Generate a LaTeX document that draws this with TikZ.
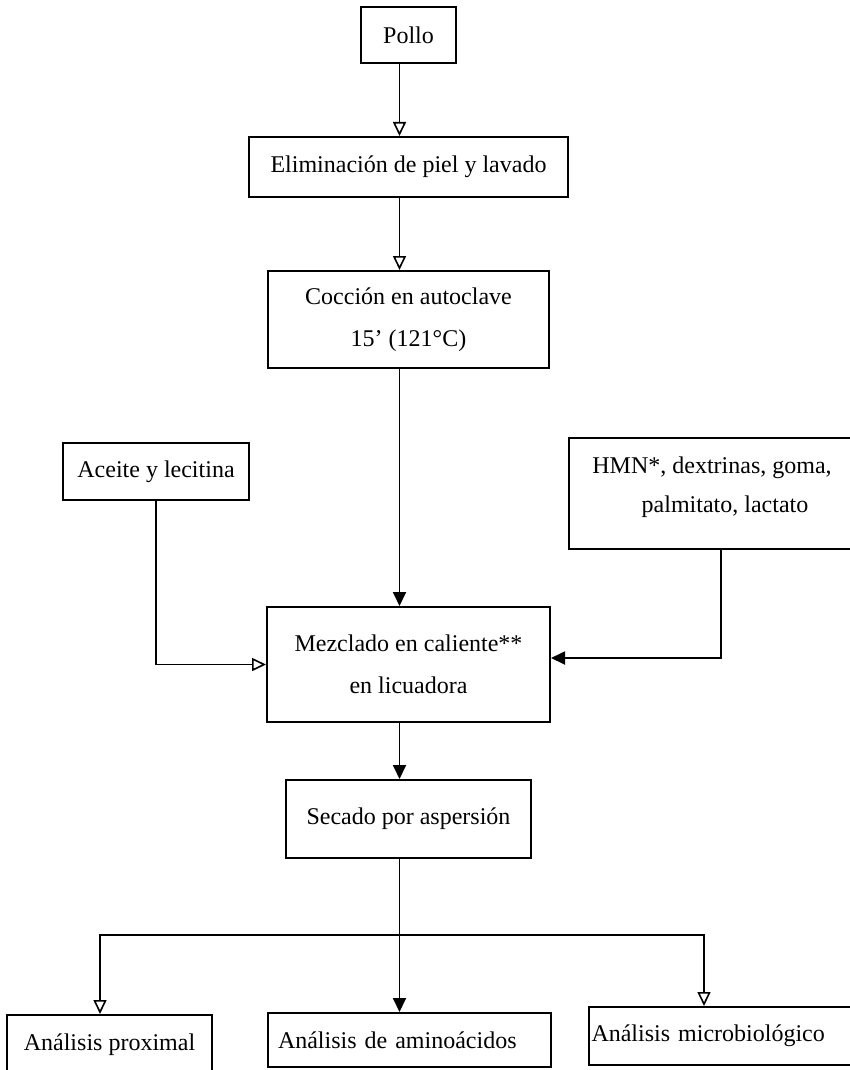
\documentclass[tikz,border=0pt]{standalone}
\usepackage{fontspec}
\setmainfont{Liberation Serif}
\usetikzlibrary{arrows.meta}
\begin{document}
\begin{tikzpicture}[x=1pt,y=-1pt,
  box/.style={draw=black, line width=2pt, rectangle, inner sep=0pt,
    font=\fontsize{24}{42}\selectfont, align=center},
  txt/.style={inner sep=0pt, font=\fontsize{24}{39}\selectfont, align=center},
  conn/.style={line width=1.8pt},
  arrO/.style={conn, -{Triangle[open,length=14pt,width=13pt,line width=1.6pt]}},
  arrF/.style={conn, -{Triangle[length=14pt,width=13pt]}}]
\useasboundingbox (0,0) rectangle (850,1070);
\fill[white] (0,0) rectangle (850,1070);

\node[box, minimum width=95pt, minimum height=56pt] (pollo) at (408.5,35) {Pollo};
\node[box, minimum width=319pt, minimum height=60pt] (elim) at (408.5,167) {Eliminación de piel y lavado};
\node[box, minimum width=281pt, minimum height=97pt] (coccion) at (408.5,319.5) {Cocción en autoclave\\15’ (121°C)};
\node[box, minimum width=186pt, minimum height=57pt] (aceite) at (156,471.5) {Aceite y lecitina};
\node[box, minimum width=283pt, minimum height=111pt] (hmn) at (710.5,493.5) {};
\node[txt] (hmntext) at (712,487.5) {HMN*, dextrinas, goma,\\\hspace*{26pt}palmitato, lactato};
\node[box, minimum width=283pt, minimum height=115pt] (mezcla) at (408.5,664.5) {Mezclado en caliente**\\en licuadora};
\node[box, minimum width=245pt, minimum height=78pt] (secado) at (408.5,819) {Secado por aspersión};
\node[box, minimum width=205pt, minimum height=60pt] (prox) at (109.5,1045) {Análisis proximal};
\node[box, minimum width=283pt, minimum height=54pt, text width=263pt, align=left] (amino) at (409.5,1040) {Análisis de aminoácidos};
\node[box, minimum width=263pt, minimum height=58pt, text width=258pt, align=left] (micro) at (720.5,1036) {Análisis microbiológico};

\coordinate (br) at (399.5,935);

\draw[arrO] ([xshift=-9pt]pollo.south) -- ([xshift=-9pt]elim.north);
\draw[arrO] ([xshift=-9pt]elim.south) -- ([xshift=-9pt]coccion.north);
\draw[arrF] ([xshift=-9pt]coccion.south) -- ([xshift=-9pt]mezcla.north);
\draw[arrO] (aceite.south) |- (mezcla.west);
\draw[arrF] ([xshift=10.5pt]hmn.south) |- ([yshift=6.5pt]mezcla.east);
\draw[arrF] ([xshift=-9pt]mezcla.south) -- ([xshift=-9pt]secado.north);
\draw[arrF] ([xshift=-9pt]secado.south) -- ([xshift=-10pt]amino.north);
\draw[arrO] (br) -| ([xshift=-9.5pt]prox.north);
\draw[arrO] (br) -| ([xshift=-16.5pt]micro.north);
\end{tikzpicture}
\end{document}
